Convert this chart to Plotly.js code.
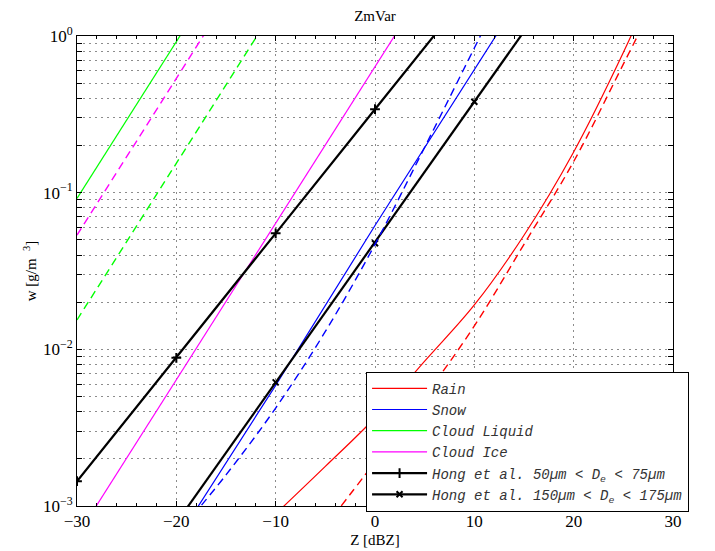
<!DOCTYPE html>
<html>
<head>
<meta charset="utf-8">
<script src="https://cdn.plot.ly/plotly-3.0.1.min.js"></script>
<style>html,body{margin:0;padding:0;background:#fff;}#chart{width:715px;height:551px;}</style>
</head>
<body>
<div id="chart"></div>
<script>
// Reflectivity (dBZ)
const rainZ = [-10, -5, 0, 5, 10, 15, 20, 25, 30];
const rainW = [8.9e-4, 1.79e-3, 3.66e-3, 8.4e-3, 0.0192, 0.0535, 0.182, 0.785, 3.98];
const rainDashZ = [-5, 0, 5, 10, 15, 20, 25, 30];
const rainDashW = [7.4e-4, 1.91e-3, 5.0e-3, 0.0141, 0.0468, 0.158, 0.661, 2.82];

const snowZ = [-20, -10, 0, 10, 20];
const snowW = [6.03e-4, 5.89e-3, 0.0617, 0.610, 6.03];
const snowDashZ = [-20, -15, -10, -5, 0, 5, 10, 15];
const snowDashW = [6.5e-4, 1.58e-3, 4.22e-3, 0.0130, 0.0468, 0.195, 0.838, 3.6];

const liqZ = [-30, -20, -10];
const liqW = [0.092, 0.92, 9.2];
const liqDashZ = [-30, -20, -10];
const liqDashW = [0.0154, 0.154, 1.54];

const iceZ = [-30, -20, -10, 0, 10];
const iceW = [6.4e-4, 6.36e-3, 0.0636, 0.636, 6.36];
const iceDashZ = [-30, -20, -10];
const iceDashW = [0.0536, 0.536, 5.36];

const hong50Z = [-30, -20, -10, 0, 10];
const hong50W = [1.44e-3, 8.83e-3, 0.055, 0.341, 2.1];
const hong150Z = [-20, -10, 0, 10, 20];
const hong150W = [7.8e-4, 6.15e-3, 0.0476, 0.380, 3.0];

const xTickVals = [-30, -20, -10, 0, 10, 20, 30];
const xTickText = ['\u221230', '\u221220', '\u221210', '0', '10', '20', '30'];
const yDecades = [1e-3, 1e-2, 1e-1, 1];
const yDecadeText = ['10<sup>\u22123</sup>', '10<sup>\u22122</sup>', '10<sup>\u22121</sup>', '10<sup>0</sup>'];

const yTickVals = [], yTickText = [];
yDecades.forEach((d, i) => {
  const n = (i === yDecades.length - 1) ? 1 : 9;
  for (let m = 1; m <= n; m++) {
    yTickVals.push(d * m);
    yTickText.push(m === 1 ? yDecadeText[i] : '');
  }
});

const dashPat = '8px,5px';
const traces = [
  {x: rainZ, y: rainW, name: 'Rain', mode: 'lines', line: {color: '#ff0000', width: 1.2, shape: 'spline'}},
  {x: snowZ, y: snowW, name: 'Snow', mode: 'lines', line: {color: '#0000ff', width: 1.2}},
  {x: liqZ, y: liqW, name: 'Cloud Liquid', mode: 'lines', line: {color: '#00ff00', width: 1.2}},
  {x: iceZ, y: iceW, name: 'Cloud Ice', mode: 'lines', line: {color: '#ff00ff', width: 1.2}},
  {x: hong50Z, y: hong50W, name: 'Hong et al. 50\u00b5m &lt; D<sub>e</sub> &lt; 75\u00b5m', mode: 'lines+markers',
   line: {color: '#000', width: 2.2}, marker: {symbol: 'cross-thin', size: 7, line: {color: '#000', width: 2}}},
  {x: hong150Z, y: hong150W, name: 'Hong et al. 150\u00b5m &lt; D<sub>e</sub> &lt; 175\u00b5m', mode: 'lines+markers',
   line: {color: '#000', width: 2.2}, marker: {symbol: 'x-thin', size: 6, line: {color: '#000', width: 2}}},
  {x: rainDashZ, y: rainDashW, name: 'Rain dashed', showlegend: false, mode: 'lines', line: {color: '#ff0000', width: 1.4, dash: dashPat, shape: 'spline'}},
  {x: snowDashZ, y: snowDashW, name: 'Snow dashed', showlegend: false, mode: 'lines', line: {color: '#0000ff', width: 1.4, dash: dashPat, shape: 'spline'}},
  {x: liqDashZ, y: liqDashW, name: 'Liquid dashed', showlegend: false, mode: 'lines', line: {color: '#00ff00', width: 1.4, dash: dashPat}},
  {x: iceDashZ, y: iceDashW, name: 'Ice dashed', showlegend: false, mode: 'lines', line: {color: '#ff00ff', width: 1.4, dash: dashPat}}
];

const serif = 'Liberation Serif, Times New Roman, serif';
const gridDash = '1.5px,4.5px';
const layout = {
  width: 715, height: 551,
  margin: {l: 77, r: 42, t: 36, b: 45, autoexpand: false},
  paper_bgcolor: '#fff', plot_bgcolor: '#fff',
  title: {text: 'ZmVar', font: {family: serif, size: 15, color: '#000'}, xref: 'paper', x: 0.5, xanchor: 'center', yref: 'container', y: 0.972, yanchor: 'middle'},
  xaxis: {
    range: [-30, 30], tickvals: xTickVals, ticktext: xTickText,
    ticks: 'inside', ticklen: 5, tickcolor: '#000', showline: true, linecolor: '#000', linewidth: 1, mirror: 'allticks',
    showgrid: true, gridcolor: '#8c8c8c', griddash: gridDash, gridwidth: 1, zeroline: false,
    tickfont: {family: serif, size: 17, color: '#000'},
    minor: {dtick: 2, tick0: 0, ticks: 'inside', ticklen: 3, tickcolor: '#000', showgrid: false},
    title: {text: 'Z [dBZ]', font: {family: serif, size: 15, color: '#000'}, standoff: 4}
  },
  yaxis: {
    type: 'log', range: [-3, 0], tickmode: 'array', tickvals: yTickVals, ticktext: yTickText,
    ticks: 'inside', ticklen: 5, tickcolor: '#000', showline: true, linecolor: '#000', linewidth: 1, mirror: 'allticks',
    showgrid: true, gridcolor: '#8c8c8c', griddash: gridDash, gridwidth: 1, zeroline: false,
    tickfont: {family: serif, size: 17, color: '#000'},
    title: {text: 'w [g/m  <sup>3</sup>]', font: {family: serif, size: 15, color: '#000'}, standoff: 2}
  },
  legend: {
    x: 0.485, y: 0.2857, xanchor: 'left', yanchor: 'top',
    bgcolor: '#fff', bordercolor: '#000', borderwidth: 1,
    font: {family: 'Liberation Mono, Courier New, monospace', size: 14, color: '#333', style: 'italic'},
    itemwidth: 55, tracegroupgap: 0
  },
  showlegend: true
};

Plotly.newPlot('chart', traces, layout, {displayModeBar: false, staticPlot: true});
</script>
</body>
</html>
